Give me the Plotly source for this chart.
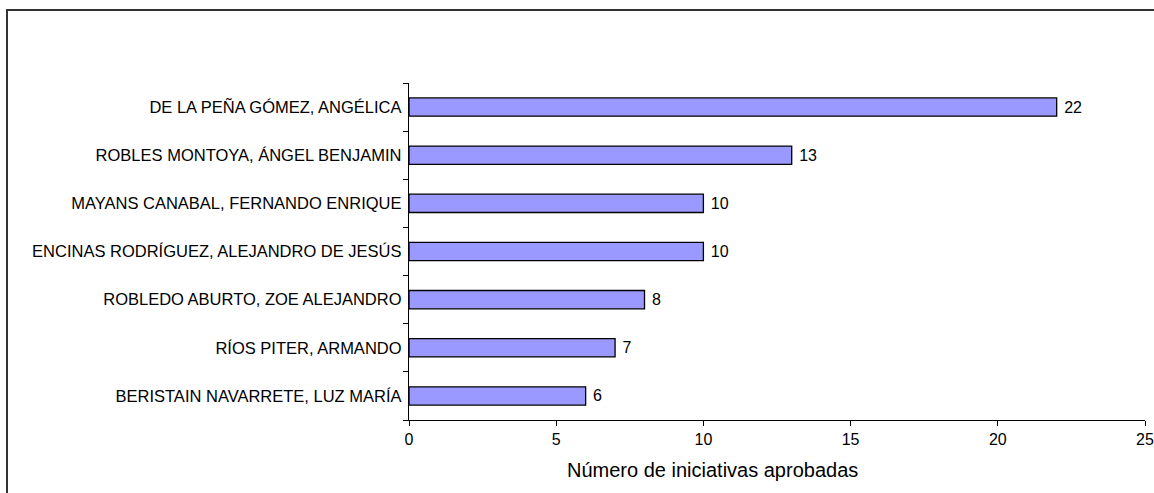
import plotly.graph_objects as go

categories = [
    "DE LA PEÑA GÓMEZ, ANGÉLICA",
    "ROBLES MONTOYA, ÁNGEL BENJAMIN",
    "MAYANS CANABAL, FERNANDO ENRIQUE",
    "ENCINAS RODRÍGUEZ, ALEJANDRO DE JESÚS",
    "ROBLEDO ABURTO, ZOE ALEJANDRO",
    "RÍOS PITER, ARMANDO",
    "BERISTAIN NAVARRETE, LUZ MARÍA",
]
values = [22, 13, 10, 10, 8, 7, 6]
x_ticks = [0, 5, 10, 15, 20, 25]
x_title = "Número de iniciativas aprobadas"

W, H = 1154, 493
ml, mr, mt, mb = 409, 9, 83, 73
pw, ph = W - ml - mr, H - mt - mb

def px_x(p):
    return (p - ml) / pw

def px_y(p):
    return (H - mb - p) / ph

FONT = "Liberation Sans, Arial"

fig = go.Figure(go.Bar(
    x=values,
    y=categories,
    orientation="h",
    marker=dict(color="#9999FF", line=dict(color="#000000", width=1.3)),
    text=[" " + str(v) for v in values],
    textposition="outside",
    constraintext="none",
    textfont=dict(family=FONT, size=16, color="#000000"),
    cliponaxis=False,
))

fig.update_layout(
    width=W, height=H,
    margin=dict(l=ml, r=mr, t=mt, b=mb, autoexpand=False),
    plot_bgcolor="white", paper_bgcolor="white",
    bargap=0.62,
    showlegend=False,
    font=dict(family=FONT, color="#000000"),
)
fig.update_yaxes(
    categoryorder="array", categoryarray=categories[::-1],
    showline=True, linecolor="#000000", linewidth=1.3,
    ticks="outside", ticklen=5, tickcolor="#000000", tickwidth=1.3,
    tickson="boundaries",
    tickfont=dict(family=FONT, size=16.5, color="#000000"),
    showgrid=False, zeroline=False, ticklabelstandoff=3,
    automargin=False,
)
fig.update_xaxes(
    range=[0, 25], tickvals=x_ticks, ticktext=[str(t) for t in x_ticks],
    showline=True, linecolor="#000000", linewidth=1.3,
    ticks="outside", ticklen=5, tickcolor="#000000", tickwidth=1.3,
    tickfont=dict(family=FONT, size=16, color="#000000"),
    showgrid=False, zeroline=False,
    automargin=False,
)
fig.add_annotation(
    text=x_title, xref="paper", yref="paper",
    x=px_x(712), y=px_y(470), xanchor="center", yanchor="middle",
    showarrow=False, font=dict(family=FONT, size=20, color="#000000"),
)
# outer frame
fig.add_shape(type="rect", xref="paper", yref="paper",
              x0=px_x(7), x1=px_x(1165), y0=px_y(505), y1=px_y(10),
              line=dict(color="#333333", width=2), fillcolor="rgba(0,0,0,0)", layer="above")

fig.write_html("out.html", config={"displayModeBar": False},
               post_script="document.body.style.margin='0';")
